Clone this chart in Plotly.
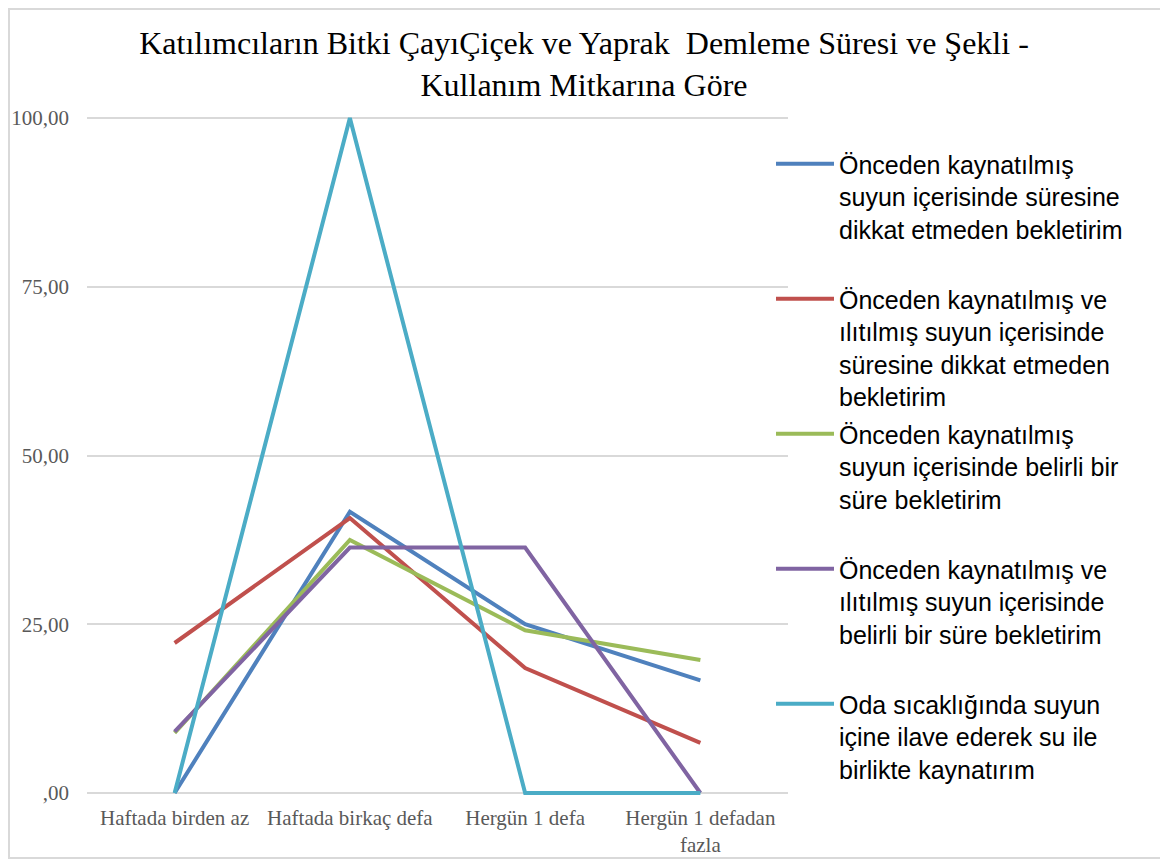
import plotly.graph_objects as go

categories = ["Haftada birden az", "Haftada birkaç defa", "Hergün 1 defa", "Hergün 1 defadan<br>fazla"]

series_names = [
    "Önceden kaynatılmış<br>suyun içerisinde süresine<br>dikkat etmeden bekletirim",
    "Önceden kaynatılmış ve<br>ılıtılmış suyun içerisinde<br>süresine dikkat etmeden<br>bekletirim",
    "Önceden kaynatılmış<br>suyun içerisinde belirli bir<br>süre bekletirim",
    "Önceden kaynatılmış ve<br>ılıtılmış suyun içerisinde<br>belirli bir süre bekletirim",
    "Oda sıcaklığında suyun<br>içine ilave ederek su ile<br>birlikte kaynatırım",
]

blue_vals = [0.00, 41.67, 25.00, 16.67]
red_vals = [22.22, 40.74, 18.52, 7.41]
green_vals = [8.90, 37.50, 24.10, 19.70]
purple_vals = [9.09, 36.36, 36.36, 0.00]
cyan_vals = [0.00, 100.00, 0.00, 0.00]

colors = ["#4F81BD", "#C0504D", "#9BBB59", "#8064A2", "#4BACC6"]

y_tickvals = [0, 25, 50, 75, 100]
y_ticktext = [",00", "25,00", "50,00", "75,00", "100,00"]

title_text = "Katılımcıların Bitki ÇayıÇiçek ve Yaprak  Demleme Süresi ve Şekli -<br>Kullanım Mitkarına Göre"

all_vals = [blue_vals, red_vals, green_vals, purple_vals, cyan_vals]

fig = go.Figure()
for i, (name, vals, col) in enumerate(zip(series_names, all_vals, colors)):
    nlines = name.count("<br>") + 1
    label = name + "<br>&nbsp;" * (4 - nlines)
    fig.add_trace(go.Scatter(
        x=list(range(len(categories))), y=vals, mode="lines", name=label,
        line=dict(color=col, width=4), legendgroup=f"g{i}",
        cliponaxis=False,
    ))

# page is offset by the 8px body margin
OFF = 8
W, H = 1168, 861
ml, mt = 87 - OFF, 116 - OFF
pw, ph = 701, 679
mr = W - ml - pw
mb = H - mt - ph


def px2x(page_px):
    return (page_px - OFF - ml) / pw


def py2y(page_py):
    return (H - mb - (page_py - OFF)) / ph


fig.update_layout(
    width=W, height=H,
    margin=dict(l=ml, r=mr, t=mt, b=mb, autoexpand=False),
    paper_bgcolor="white", plot_bgcolor="white",
    title=dict(text=title_text, x=(584 - OFF) / W, xref="container", xanchor="center",
               y=1 - (54 - OFF) / H, yref="container", yanchor="middle",
               font=dict(family="Liberation Serif", size=32, color="#000000")),
    xaxis=dict(range=[-0.5, 3.5], tickvals=list(range(len(categories))), ticktext=categories,
               showgrid=False, zeroline=False, showline=False, ticks="",
               tickfont=dict(family="Liberation Serif", size=21, color="#595959"),
               ticklabelstandoff=8, automargin=False, fixedrange=True),
    yaxis=dict(range=[-0.3, 100.3], tickvals=y_tickvals, ticktext=y_ticktext,
               showgrid=True, gridcolor="#D9D9D9", gridwidth=2, zeroline=False,
               showline=False, ticks="",
               tickfont=dict(family="Liberation Serif", size=21, color="#595959"),
               ticklabelstandoff=17, automargin=False),
    legend=dict(x=px2x(771), y=py2y(141), xanchor="left", yanchor="top",
                font=dict(family="Liberation Sans", size=25, color="#000000"),
                valign="top", tracegroupgap=2, itemwidth=58, maxheight=850,
                bgcolor="rgba(0,0,0,0)"),
    showlegend=True,
)

fig.add_shape(type="rect", xref="paper", yref="paper",
              x0=px2x(9), x1=px2x(1162), y0=py2y(858), y1=py2y(9),
              line=dict(color="#D9D9D9", width=2), fillcolor="rgba(0,0,0,0)", layer="below")

fig.write_html("out.html")
